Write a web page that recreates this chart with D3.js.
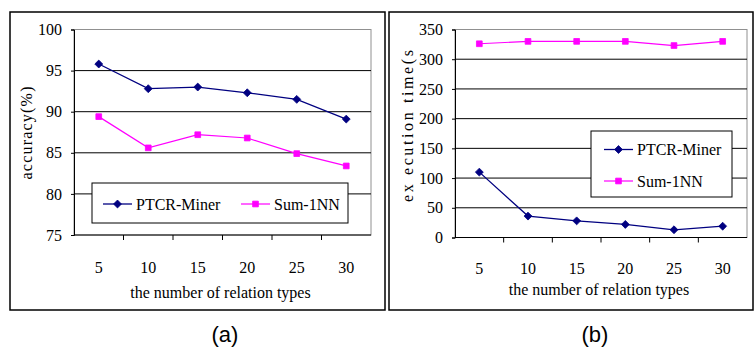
<!DOCTYPE html>
<html>
<head>
<meta charset="utf-8">
<script src="https://cdn.jsdelivr.net/npm/d3@7/dist/d3.min.js"></script>
<style>
  body { margin: 0; background: #fff; }
  svg { display: block; }
</style>
</head>
<body>
<svg id="chart" width="754" height="349"></svg>
<script>

// categories: number of relation types
const relationTypes = ["5", "10", "15", "20", "25", "30"];

// (a) accuracy (%)
const accPtcr = [95.8, 92.8, 93.0, 92.3, 91.5, 89.1];
const accSum = [89.4, 85.6, 87.2, 86.8, 84.9, 83.4];
const accTicks = [75, 80, 85, 90, 95, 100];

// (b) execution time (s)
const timePtcr = [110, 36, 28, 22, 13, 19];
const timeSum = [326, 330, 330, 330, 323, 330];
const timeTicks = [0, 50, 100, 150, 200, 250, 300, 350];

const seriesNames = ["PTCR-Miner", "Sum-1NN"];
const navy = "#000080", magenta = "#ff00ff";
const serif = "'Liberation Serif', 'Times New Roman', serif";

const svg = d3.select("#chart");

function serifText(sel) {
  return sel.attr("font-family", serif).style("font-family", serif)
    .style("font-size", "16px").attr("fill", "#000");
}

/*
    One framed panel with plot, axes and legend
 */
function drawPanel(cfg) {

  const g = svg.append("g");

  // outer frame
  g.append("rect")
    .attr("x", cfg.frame[0]).attr("y", cfg.frame[1])
    .attr("width", cfg.frame[2] - cfg.frame[0])
    .attr("height", cfg.frame[3] - cfg.frame[1])
    .attr("fill", "none").attr("stroke", "#000").attr("stroke-width", 1.5);

  const x = d3.scaleBand().domain(relationTypes).range([cfg.left, cfg.right]);
  const y = d3.scaleLinear().domain(cfg.domain).range([cfg.bottom, cfg.top]);

  // plot border (gray) top/right
  g.append("rect")
    .attr("x", cfg.left).attr("y", cfg.top)
    .attr("width", cfg.right - cfg.left).attr("height", cfg.bottom - cfg.top)
    .attr("fill", "none").attr("stroke", "#909090").attr("stroke-width", 1);

  // gridlines
  g.selectAll(".grid")
    .data(cfg.ticks.filter(t => t != cfg.domain[0] && t != cfg.domain[1]))
    .enter().append("line")
      .attr("x1", cfg.left).attr("x2", cfg.right)
      .attr("y1", d => y(d)).attr("y2", d => y(d))
      .attr("stroke", "#000").attr("stroke-width", 1);

  // y axis
  const yAxis = g.append("g")
    .attr("transform", `translate(${cfg.left},0)`)
    .call(d3.axisLeft(y).tickValues(cfg.ticks).tickSize(3).tickPadding(9))
    .attr("font-family", serif).attr("font-size", 16);
  yAxis.select(".domain").attr("stroke", "#000");
  serifText(yAxis.selectAll("text"));

  // x axis with ticks at band boundaries
  const xAxis = g.append("g").attr("transform", `translate(0,${cfg.bottom})`);
  xAxis.append("line")
    .attr("x1", cfg.left).attr("x2", cfg.right)
    .attr("stroke", "#000").attr("stroke-width", 1);
  xAxis.selectAll(".xtick")
    .data(relationTypes.slice(1))
    .enter().append("line")
      .attr("x1", d => x(d)).attr("x2", d => x(d))
      .attr("y1", 0).attr("y2", 5)
      .attr("stroke", "#000");
  serifText(xAxis.selectAll(".xlab")
    .data(relationTypes)
    .enter().append("text")
      .attr("x", d => x(d) + x.bandwidth() / 2)
      .attr("y", cfg.xLabelY - cfg.bottom)
      .attr("text-anchor", "middle")
      .text(d => d));

  serifText(g.append("text")
    .attr("x", (cfg.left + cfg.right) / 2 - 2)
    .attr("y", cfg.xTitleY)
    .attr("text-anchor", "middle")
    .text("the number of relation types"));

  serifText(g.append("text")
    .attr("transform", `translate(${cfg.yTitle[0]},${cfg.yTitle[1]}) rotate(-90)`)
    .attr("text-anchor", "middle")
    .attr("textLength", cfg.yTitle[2])
    .attr("lengthAdjust", "spacing")
    .text(cfg.yTitleText));

  // series
  const cx = (d, i) => x(relationTypes[i]) + x.bandwidth() / 2;
  const line = d3.line().x(cx).y(d => y(d));

  g.append("path").attr("d", line(cfg.sum))
    .attr("fill", "none").attr("stroke", magenta).attr("stroke-width", 1.2);
  g.append("path").attr("d", line(cfg.ptcr))
    .attr("fill", "none").attr("stroke", navy).attr("stroke-width", 1.3);

  const diamond = d3.symbol().type(d3.symbolDiamond2).size(40);
  const square = d3.symbol().type(d3.symbolSquare2).size(42);

  g.selectAll(".sq").data(cfg.sum).enter().append("path")
    .attr("d", square)
    .attr("transform", (d, i) => `translate(${cx(d, i)},${y(d)})`)
    .attr("fill", magenta).attr("stroke", magenta).attr("stroke-width", 0.8);
  g.selectAll(".dm").data(cfg.ptcr).enter().append("path")
    .attr("d", diamond)
    .attr("transform", (d, i) => `translate(${cx(d, i)},${y(d)})`)
    .attr("fill", navy).attr("stroke", navy).attr("stroke-width", 0.8);

  // legend
  const lb = cfg.legend;
  g.append("rect")
    .attr("x", lb.box[0]).attr("y", lb.box[1])
    .attr("width", lb.box[2] - lb.box[0]).attr("height", lb.box[3] - lb.box[1])
    .attr("fill", "#fff").attr("stroke", "#000").attr("stroke-width", 1);

  const items = [
    {name: seriesNames[0], color: navy, sym: diamond, w: 1.3},
    {name: seriesNames[1], color: magenta, sym: square, w: 1.2}
  ];
  items.forEach((it, i) => {
    const [lx, ly] = lb.pos[i];
    g.append("line")
      .attr("x1", lx).attr("x2", lx + 29).attr("y1", ly).attr("y2", ly)
      .attr("stroke", it.color).attr("stroke-width", it.w);
    g.append("path").attr("d", it.sym)
      .attr("transform", `translate(${lx + 14.5},${ly})`)
      .attr("fill", it.color).attr("stroke", it.color).attr("stroke-width", 0.8);
    serifText(g.append("text")
      .attr("x", lx + 33).attr("y", ly + 5.5)
      .text(it.name));
  });

  // caption
  svg.append("text")
    .attr("x", cfg.caption[0]).attr("y", cfg.caption[1])
    .attr("text-anchor", "middle")
    .style("font-family", "'Liberation Sans', Arial, sans-serif")
    .style("font-size", "22px")
    .text(cfg.captionText);
}

drawPanel({
  frame: [10, 12, 385, 310],
  left: 74, right: 371, top: 29.5, bottom: 235,
  domain: [75, 100], ticks: accTicks,
  ptcr: accPtcr, sum: accSum,
  xLabelY: 273, xTitleY: 298,
  yTitle: [32, 133, 93], yTitleText: "accuracy(%)",
  legend: {box: [92, 183, 348, 223], pos: [[103, 204], [241, 204]]},
  caption: [225, 342], captionText: "(a)"
});

drawPanel({
  frame: [389, 12, 753, 310],
  left: 455, right: 747, top: 29.5, bottom: 237.5,
  domain: [0, 350], ticks: timeTicks,
  ptcr: timePtcr, sum: timeSum,
  xLabelY: 274, xTitleY: 295,
  yTitle: [413, 126, 152], yTitleText: "ex ecution time(s",
  legend: {box: [591, 131, 732, 197], pos: [[604, 149.5], [604, 181]]},
  caption: [595, 342], captionText: "(b)"
});

</script>
</body>
</html>
